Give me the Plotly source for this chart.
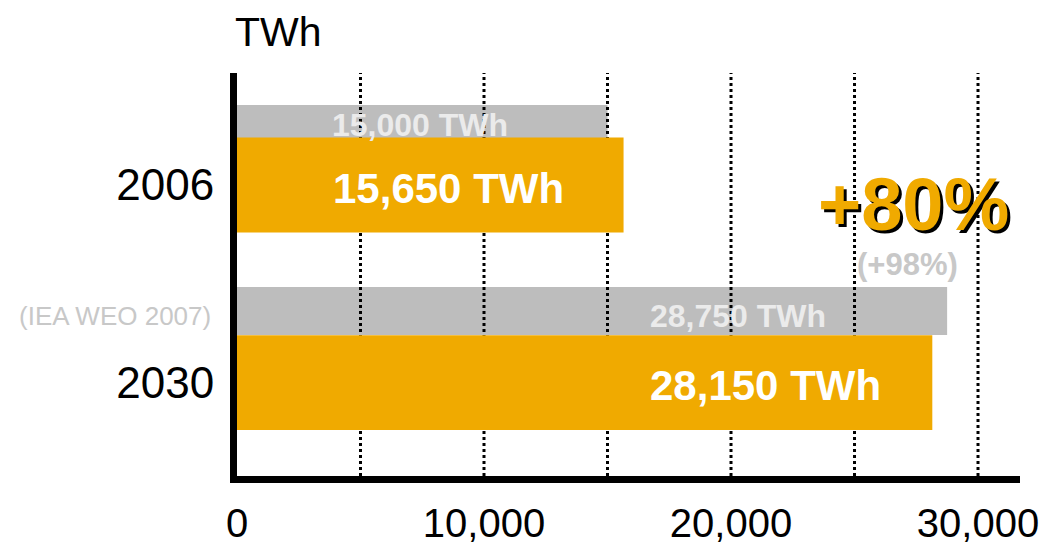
import plotly.graph_objects as go

# Electricity demand, TWh
years = ["2006", "2030"]
year_pos = [0, 1]
weo_twh = [15000, 28750]        # IEA WEO 2007 figures (grey)
current_twh = [15650, 28150]    # current figures (orange)
x_ticks = [0, 10000, 20000, 30000]
x_tick_labels = ["0", "10,000", "20,000", "30,000"]
grid_x = [5000, 10000, 15000, 20000, 25000, 30000]
growth_main = "+80%"
growth_alt = "(+98%)"
source_note = "(IEA WEO 2007)"

ORANGE = "#F0AA00"
GREY = "#BDBDBD"
FONT = "Liberation Sans, Arial, sans-serif"

X_RANGE = [0, 31700]
Y_RANGE = [1.473, -0.567]

# dotted vertical gridlines, drawn above the grey bars but below the orange ones
gx, gy = [], []
for g in grid_x:
    gx += [g, g, None]
    gy += [Y_RANGE[0], Y_RANGE[1], None]

fig = go.Figure()
fig.add_trace(go.Bar(
    x=weo_twh, y=year_pos, orientation="h",
    width=[0.167, 0.243], offset=[-0.405, -0.4835],
    marker=dict(color=GREY, line=dict(width=0)),
    hoverinfo="skip", showlegend=False,
))
fig.add_trace(go.Scatter(
    x=gx, y=gy, mode="lines",
    line=dict(color="black", width=3, dash="dot"),
    hoverinfo="skip", showlegend=False,
))
fig.add_trace(go.Bar(
    x=current_twh, y=year_pos, orientation="h",
    width=0.48, offset=-0.24,
    marker=dict(color=ORANGE, line=dict(width=0)),
    xaxis="x2", yaxis="y2",
    hoverinfo="skip", showlegend=False,
))

annotations = []
# value labels on the bars
weo_label_pos = [(3765, -0.304), (16640, 0.663)]
cur_label_pos = [(3806, 0.018), (16640, 1.013)]
for v, (lx, ly) in zip(weo_twh, weo_label_pos):
    annotations.append(dict(
        x=lx, y=ly, xref="x", yref="y", xanchor="left", yanchor="middle",
        text=f"<b>{v:,} TWh</b>", showarrow=False,
        font=dict(family=FONT, size=32, color="#EBEBEB"),
    ))
for v, (lx, ly) in zip(current_twh, cur_label_pos):
    annotations.append(dict(
        x=lx, y=ly, xref="x", yref="y", xanchor="left", yanchor="middle",
        text=f"<b>{v:,} TWh</b>", showarrow=False,
        font=dict(family=FONT, size=42, color="white"),
    ))

# growth callout with drop shadow
for dx, dy, col in [(3, 3, "black"), (0, 0, ORANGE)]:
    annotations.append(dict(
        x=27370, y=0.101, xref="x", yref="y", xanchor="center", yanchor="middle",
        xshift=dx, yshift=-dy,
        text=f"<b>{growth_main}</b>", showarrow=False,
        font=dict(family=FONT, size=74, color=col),
    ))
annotations.append(dict(
    x=27125, y=0.40, xref="x", yref="y", xanchor="center", yanchor="middle",
    text=f"<b>{growth_alt}</b>", showarrow=False,
    font=dict(family=FONT, size=31, color="#C8C8C8"),
))
annotations.append(dict(
    x=-0.0307, y=0.663, xref="paper", yref="y", xanchor="right", yanchor="middle",
    text=source_note, showarrow=False,
    font=dict(family=FONT, size=26, color="#C8C8C8"),
))
annotations.append(dict(
    x=-0.005, y=1.1017, xref="paper", yref="paper", xanchor="left", yanchor="middle",
    text="TWh", showarrow=False,
    font=dict(family=FONT, size=41, color="black"),
))

fig.update_layout(
    width=1045, height=550,
    margin=dict(l=237, r=25, t=73, b=74),
    paper_bgcolor="white", plot_bgcolor="white",
    barmode="overlay",
    font=dict(family=FONT, color="black"),
    annotations=annotations,
    xaxis=dict(
        range=X_RANGE, tickvals=x_ticks, ticktext=x_tick_labels,
        showgrid=False, zeroline=False, ticks="", automargin=False,
        showline=True, linecolor="black", linewidth=7,
        tickfont=dict(family=FONT, size=40, color="black"),
        ticklabelstandoff=6,
    ),
    yaxis=dict(
        range=Y_RANGE, tickvals=year_pos, ticktext=years,
        showgrid=False, zeroline=False, ticks="", automargin=False,
        showline=True, linecolor="black", linewidth=7,
        tickfont=dict(family=FONT, size=44, color="black"),
        ticklabelstandoff=7,
    ),
    xaxis2=dict(range=X_RANGE, overlaying="x", visible=False),
    yaxis2=dict(range=Y_RANGE, overlaying="y", visible=False),
)

fig.write_html("out.html")
